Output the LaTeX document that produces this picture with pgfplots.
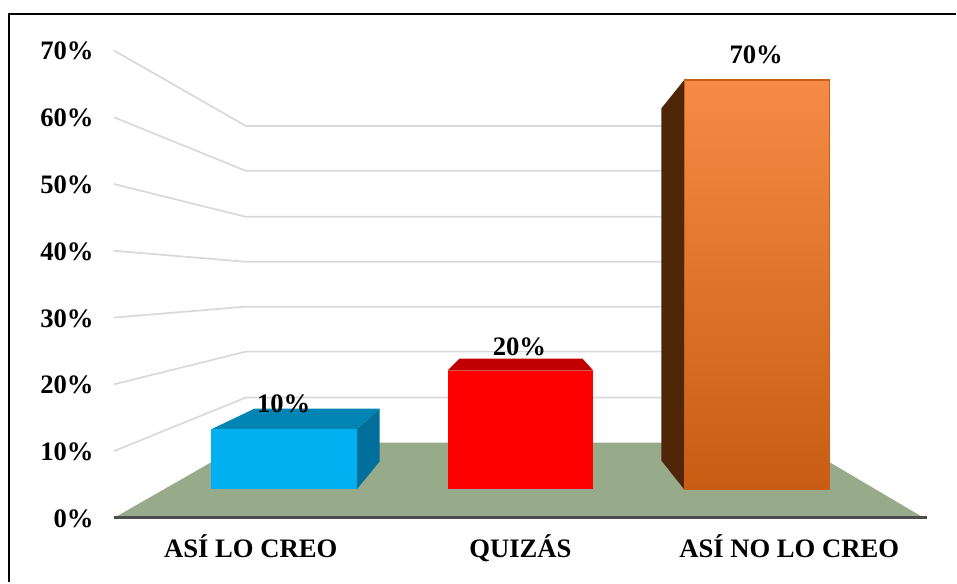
\documentclass[border=0pt]{standalone}
\usepackage{pgfplots}
\pgfplotsset{compat=1.18}
\usepackage{fontspec}
\setmainfont{Liberation Serif}
\definecolor{gridc}{HTML}{D9D9D9}
\definecolor{floorc}{HTML}{97AA8A}
\definecolor{basec}{HTML}{4D4D4D}
\definecolor{blueF}{HTML}{00B0F0}
\definecolor{blueT}{HTML}{0084B4}
\definecolor{blueS}{HTML}{006F9B}
\definecolor{redF}{HTML}{FF0000}
\definecolor{redT}{HTML}{C00000}
\definecolor{orgTop}{HTML}{F68B45}
\definecolor{orgBot}{HTML}{C75C12}
\definecolor{orgS}{HTML}{4F2607}
\definecolor{orgE}{HTML}{C8601A}
\begin{document}
\begin{tikzpicture}
\begin{axis}[
  scale only axis,
  width=608.25pt,
  height=351pt,
  xmin=114, xmax=925,
  ymin=0, ymax=70,
  clip=false,
  axis line style={draw=none},
  major tick length=0pt,
  xtick={251,521,790},
  xticklabels={ASÍ LO CREO,QUIZÁS,ASÍ NO LO CREO},
  ytick={0,10,20,30,40,50,60,70},
  yticklabels={0\%,10\%,20\%,30\%,40\%,50\%,60\%,70\%},
  xticklabel style={font=\fontsize{20pt}{22pt}\selectfont\bfseries, inner sep=0pt, anchor=base, yshift=-29.6pt},
  yticklabel style={font=\fontsize{20pt}{22pt}\selectfont\bfseries, inner sep=0pt, anchor=base east, xshift=-15pt, yshift=-7.1pt},
]
% picture extent and frame
\addplot[draw=none] coordinates {(0,-9.65) (957,77.55)};
\addplot[black, line width=1.5pt] coordinates {(9,-9.65) (9,75.45) (957,75.45)};
% grid: wall lines
\addplot[gridc, line width=1.3pt] coordinates {(114,70) (246,58.70) (797,58.70)};
\addplot[gridc, line width=1.3pt] coordinates {(114,60) (246,51.97) (797,51.97)};
\addplot[gridc, line width=1.3pt] coordinates {(114,50) (246,45.09) (797,45.09)};
\addplot[gridc, line width=1.3pt] coordinates {(114,40) (246,38.36) (797,38.36)};
\addplot[gridc, line width=1.3pt] coordinates {(114,30) (246,31.63) (797,31.63)};
\addplot[gridc, line width=1.3pt] coordinates {(114,20) (246,24.90) (797,24.90)};
\addplot[gridc, line width=1.3pt] coordinates {(114,10) (246,18.02) (797,18.02)};
% floor
\addplot[fill=floorc, draw=none] coordinates {(114,0) (246,11.29) (797,11.29) (925,0)} --cycle;
\addplot[basec, line width=2.2pt] coordinates {(114,0) (928,0)};
% bar 1: 10%
\addplot[fill=blueT, draw=none] coordinates {(211,13.24) (255,16.38) (380,16.38) (357,13.24)} --cycle;
\addplot[fill=blueS, draw=none] coordinates {(357,13.24) (380,16.38) (380,8.45) (357,4.26)} --cycle;
\addplot[fill=blueF, draw=none] coordinates {(211,4.26) (357,4.26) (357,13.24) (211,13.24)} --cycle;
% bar 2: 20%
\addplot[fill=redT, draw=none] coordinates {(448,22.06) (460,23.86) (583,23.86) (594,22.06)} --cycle;
\addplot[fill=redF, draw=none] coordinates {(448,4.26) (594,4.26) (594,22.06) (448,22.06)} --cycle;
% bar 3: 70%
\addplot[fill=orgS, draw=none] coordinates {(685,65.58) (662,61.32) (662,8.60) (685,4.26)} --cycle;
\addplot[draw=orgE, line width=0.9pt, top color=orgTop, bottom color=orgBot] coordinates {(685,4.26) (830,4.26) (830,65.58) (685,65.58)} --cycle;
% data labels
\node[font=\fontsize{20pt}{22pt}\selectfont\bfseries, inner sep=0pt] at (axis cs:284,17.05) {10\%};
\node[font=\fontsize{20pt}{22pt}\selectfont\bfseries, inner sep=0pt] at (axis cs:520,25.55) {20\%};
\node[font=\fontsize{20pt}{22pt}\selectfont\bfseries, inner sep=0pt] at (axis cs:757,69.4) {70\%};
\end{axis}
\end{tikzpicture}
\end{document}
